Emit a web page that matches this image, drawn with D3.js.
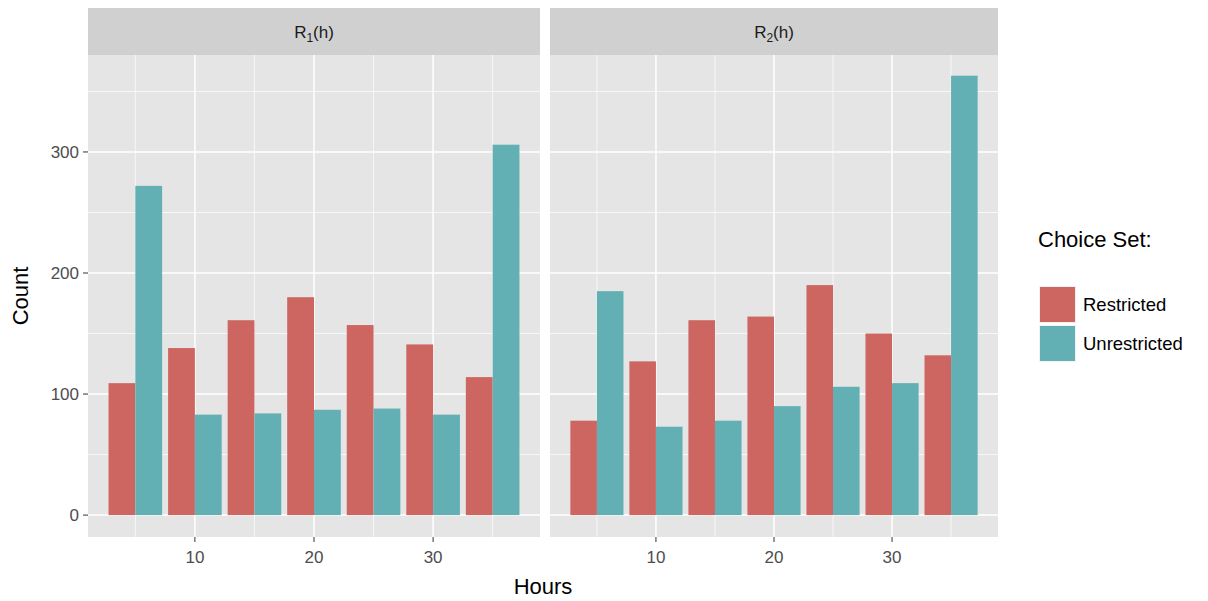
<!DOCTYPE html>
<html><head><meta charset="utf-8">
<script src="https://cdn.jsdelivr.net/npm/d3@7"></script>
<style>body{margin:0;background:#fff}svg{font-family:"Liberation Sans",Arial,sans-serif}</style>
</head><body><div id="chart"></div>
<script>
const hours = [5, 10, 15, 20, 25, 30, 35];
const panels = ["1", "2"];
const restricted1 = [109, 138, 161, 180, 157, 141, 114];
const unrestricted1 = [272, 83, 84, 87, 88, 83, 306];
const restricted2 = [78, 127, 161, 164, 190, 150, 132];
const unrestricted2 = [185, 73, 78, 90, 106, 109, 363];
const series = ["Restricted", "Unrestricted"];
const colors = ["#cd6661", "#62afb4"];
const yTicks = [0, 100, 200, 300];
const xTicks = [10, 20, 30];

const svg = d3.select("#chart").append("svg").attr("width", 1208).attr("height", 601);
const y = d3.scaleLinear().domain([-18.1, 380.1]).range([537, 55]);
const panelX = [[88, 540], [550, 998]];
const data = [[restricted1, unrestricted1], [restricted2, unrestricted2]];

panels.forEach((p, pi) => {
  const [x0, x1] = panelX[pi];
  const x = d3.scaleLinear().domain([1.025, 38.975]).range([x0, x1]);
  const g = svg.append("g");
  g.append("rect").attr("x", x0).attr("y", 55).attr("width", x1 - x0).attr("height", 482).attr("fill", "#e5e5e5");
  // strip
  g.append("rect").attr("x", x0).attr("y", 8).attr("width", x1 - x0).attr("height", 47).attr("fill", "#d0d0d0");
  const st = g.append("text").attr("x", (x0 + x1) / 2).attr("y", 38).attr("text-anchor", "middle")
    .attr("font-size", 17).attr("fill", "#1a1a1a");
  st.append("tspan").text("R");
  st.append("tspan").attr("font-size", 12).attr("dy", 4).text(p);
  st.append("tspan").attr("dy", -4).text("(h)");
  // grid
  [50, 150, 250, 350].forEach(v => g.append("line").attr("x1", x0).attr("x2", x1).attr("y1", y(v)).attr("y2", y(v)).attr("stroke", "#fff").attr("stroke-width", 0.7));
  hours.filter(h => h % 10).forEach(v => g.append("line").attr("x1", x(v)).attr("x2", x(v)).attr("y1", 55).attr("y2", 537).attr("stroke", "#fff").attr("stroke-width", 0.7));
  yTicks.forEach(v => g.append("line").attr("x1", x0).attr("x2", x1).attr("y1", y(v)).attr("y2", y(v)).attr("stroke", "#fff").attr("stroke-width", 1.5));
  xTicks.forEach(v => g.append("line").attr("x1", x(v)).attr("x2", x(v)).attr("y1", 55).attr("y2", 537).attr("stroke", "#fff").attr("stroke-width", 1.5));
  // bars
  const bw = x(2.25) - x(0);
  data[pi].forEach((vals, si) => {
    g.selectAll(null).data(hours).join("rect")
      .attr("x", (h) => x(h - 2.25 + si * 2.25))
      .attr("width", bw)
      .attr("y", (h, i) => y(vals[i]))
      .attr("height", (h, i) => y(0) - y(vals[i]))
      .attr("fill", colors[si]);
  });
  // x axis
  xTicks.forEach(v => {
    g.append("line").attr("x1", x(v)).attr("x2", x(v)).attr("y1", 537).attr("y2", 542).attr("stroke", "#333");
    g.append("text").attr("x", x(v)).attr("y", 563).attr("text-anchor", "middle").attr("font-size", 17).attr("fill", "#4d4d4d").text(v);
  });
});
// y axis
yTicks.forEach(v => {
  svg.append("line").attr("x1", 83).attr("x2", 88).attr("y1", y(v)).attr("y2", y(v)).attr("stroke", "#333");
  svg.append("text").attr("x", 79).attr("y", y(v) + 6).attr("text-anchor", "end").attr("font-size", 17).attr("fill", "#4d4d4d").text(v);
});
svg.append("text").attr("x", 543).attr("y", 594).attr("text-anchor", "middle").attr("font-size", 22).text("Hours");
svg.append("text").attr("transform", "translate(28,296) rotate(-90)").attr("text-anchor", "middle").attr("font-size", 22).text("Count");
// legend
svg.append("text").attr("x", 1038).attr("y", 247).attr("font-size", 22).text("Choice Set:");
series.forEach((s, i) => {
  svg.append("rect").attr("x", 1039).attr("y", 286 + i * 39).attr("width", 37).attr("height", 37).attr("fill", "#f2f2f2");
  svg.append("rect").attr("x", 1040).attr("y", 287 + i * 39).attr("width", 35).attr("height", 35).attr("fill", colors[i]);
  svg.append("text").attr("x", 1083).attr("y", 311 + i * 39).attr("font-size", 18.5).text(s);
});
</script></body></html>
